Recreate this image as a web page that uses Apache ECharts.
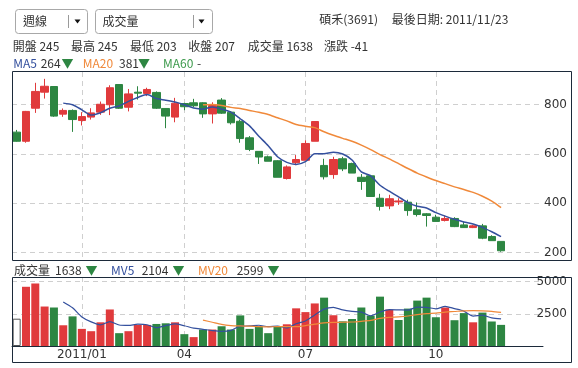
<!DOCTYPE html>
<html><head><meta charset="utf-8">
<script src="https://cdn.jsdelivr.net/npm/echarts@6/dist/echarts.min.js"></script>
<style>html,body{margin:0;padding:0;background:#fff}#c{width:578px;height:368px}</style>
</head><body><div id="c"></div>
<script>
const dates = ['2010/11/19','2010/11/26','2010/12/03','2010/12/10','2010/12/17','2010/12/24','2010/12/31',
'2011/01/07','2011/01/14','2011/01/21','2011/01/28','2011/02/11','2011/02/18','2011/02/25','2011/03/04',
'2011/03/11','2011/03/18','2011/03/25','2011/04/01','2011/04/08','2011/04/15','2011/04/22','2011/04/29',
'2011/05/06','2011/05/13','2011/05/20','2011/05/27','2011/06/03','2011/06/10','2011/06/17','2011/06/24',
'2011/07/01','2011/07/08','2011/07/15','2011/07/22','2011/07/29','2011/08/05','2011/08/12','2011/08/19',
'2011/08/26','2011/09/02','2011/09/09','2011/09/16','2011/09/23','2011/09/30','2011/10/07','2011/10/14',
'2011/10/21','2011/10/28','2011/11/04','2011/11/11','2011/11/18','2011/11/23'];
const opens  = [688,651,785,850,873,761,776,735,749,769,799,881,789,850,845,849,784,749,804,807,807,762,818,769,732,665,610,588,572,500,564,574,651,553,516,580,561,505,511,420,389,405,404,373,357,343,330,338,312,301,308,265,245];
const closes = [651,772,853,874,753,776,739,751,766,801,868,785,843,846,861,785,753,805,791,795,762,796,765,726,662,618,587,570,505,547,577,642,731,507,577,539,522,488,427,387,418,409,370,354,350,326,338,305,301,308,258,248,207];
const lows   = [649,645,766,824,750,750,689,715,739,758,757,782,772,820,834,782,704,728,777,790,746,723,762,719,645,611,559,570,505,496,554,574,651,496,499,530,522,454,427,370,376,393,349,346,305,326,326,303,301,299,254,248,203];
const highs  = [697,774,888,904,874,784,780,769,785,812,878,882,863,874,868,853,784,827,807,823,809,809,826,773,739,672,610,593,574,553,595,655,732,580,588,588,564,518,515,438,434,420,414,403,360,353,349,343,324,312,316,270,245];
const volumes = [2117,4592,4847,3061,2985,1607,2296,1327,1148,1837,2832,995,1148,1633,1633,1709,1760,1837,918,689,1276,1276,1531,1276,2372,1327,1531,995,1480,1684,2920,2628,3300,3750,2385,1913,2092,2985,2360,3827,2820,2015,2900,3520,3750,2230,2985,2000,2551,1837,2590,1900,1638];
const ma5 = [null,null,null,null,null,805.6,799,778.6,757,766.6,785,794.2,812.6,828.6,840.6,824,817.6,810,799,785.8,781.2,789.8,781.8,768.8,742.2,713.4,671.6,632.6,588.4,565.4,557.2,568.2,600.4,600.8,606.8,599.2,575.2,526.6,510.6,472.6,448.4,425.8,402.2,387.6,380.2,361.8,347.6,334.6,324,315.6,302,284,264.4];
const ma20 = [null,null,null,null,null,null,null,null,null,null,null,null,null,null,null,null,null,null,null,null,799.0,800.2,795.8,788.4,783.8,775.9,768.3,759.3,746.2,733.5,719.0,711.8,706.2,689.3,675.1,662.8,651.2,635.4,617.2,596.8,579.6,560.2,540.5,521.9,506.3,491.7,479.2,466.0,455.8,443.8,427.9,408.2,382.0];
const mv5 = [null,null,null,null,null,3418,2959,2255,1873,1643,1888,1628,1592,1689,1648,1424,1577,1714,1571,1383,1296,1199,1138,1210,1546,1556,1607,1500,1541,1403,1722,1941,2402,2856,2997,2795,2688,2625,2347,2635,2817,2801,2784,3016,3001,2883,3077,2897,2703,2321,2393,2176,2103];
const mv20 = [null,null,null,null,null,null,null,null,null,null,null,null,null,null,null,null,null,null,null,null,2007,1841,1675,1586,1555,1541,1503,1486,1503,1495,1500,1581,1689,1795,1832,1842,1859,1916,1989,2145,2223,2260,2328,2440,2509,2554,2627,2677,2731,2738,2722,2686,2602];
const tickDates = ['2011/01/07','2011/04/01','2011/07/01','2011/10/07'];
const tickLabels = ['2011/01','04','07','10'];
const priceTicks = [200,400,600,800];
const volumeTicks = [2500,5000];

const UP = '#e03a3c', DOWN = '#2d8642', BLUE = '#34509e', ORANGE = '#f0893a', GREENTXT = '#3d9a4c';
const BORDER = '#1c2a3a', GRIDC = '#cfcfcf';
const AXFONT = 'DejaVu Sans';
const HFONT = '12px "Noto Sans CJK TC"';

const isTick = (i, v) => tickDates.indexOf(v) >= 0;
const candleData = dates.map((d, i) => [opens[i], closes[i], lows[i], highs[i]]);
const volData = volumes.map((v, i) => i === 0
  ? { value: v, itemStyle: { color: '#ffffff', borderColor: '#555', borderWidth: 1 } }
  : { value: v, itemStyle: { color: closes[i] >= closes[i - 1] ? UP : DOWN } });

function txt(x, y, s, fill) {
  return { type: 'text', silent: true, style: { x: x, y: y, text: s, font: HFONT, fill: fill || '#333',
    textVerticalAlign: 'middle', verticalAlign: 'middle' } };
}
const graphics = [
  { type: 'rect', shape: { x: 12.5, y: 71.5, width: 559, height: 189 }, style: { fill: 'none', stroke: BORDER, lineWidth: 1 }, silent: true, z: 10 },
  { type: 'rect', shape: { x: 12.5, y: 277.5, width: 559, height: 85 }, style: { fill: 'none', stroke: BORDER, lineWidth: 1 }, silent: true, z: 10 },
  { type: 'rect', shape: { x: 15.5, y: 9.5, width: 72, height: 24, r: 3 }, style: { fill: '#fff', stroke: '#a8a8a8', lineWidth: 1 }, silent: true },
  { type: 'line', shape: { x1: 68.5, y1: 15, x2: 68.5, y2: 28 }, style: { stroke: '#9a9a9a', lineWidth: 1 }, silent: true },
  { type: 'polygon', shape: { points: [[74.5, 19.5], [80.5, 19.5], [77.5, 23.5]] }, style: { fill: '#111' }, silent: true },
  { type: 'rect', shape: { x: 95.5, y: 9.5, width: 117, height: 24, r: 3 }, style: { fill: '#fff', stroke: '#a8a8a8', lineWidth: 1 }, silent: true },
  { type: 'line', shape: { x1: 193.5, y1: 15, x2: 193.5, y2: 28 }, style: { stroke: '#9a9a9a', lineWidth: 1 }, silent: true },
  { type: 'polygon', shape: { points: [[198.5, 19.5], [204.5, 19.5], [201.5, 23.5]] }, style: { fill: '#111' }, silent: true },
  txt(23, 21.5, '週線'), txt(102.5, 21.5, '成交量'),
  txt(319.3, 19, '碩禾(3691)'), txt(391.7, 19, '最後日期: 2011/11/23'),
  txt(12.7, 46.7, '開盤 245'), txt(71, 46.7, '最高 245'), txt(130, 46.7, '最低 203'),
  txt(188.3, 46.7, '收盤 207'), txt(247.7, 46.7, '成交量 1638'), txt(324, 46.7, '漲跌 -41'),
  txt(13.3, 63, 'MA5', BLUE), txt(40.7, 63, '264'), txt(61.5, 63, '▼', DOWN),
  txt(82.7, 63, 'MA20', ORANGE), txt(119, 63, '381'), txt(138, 63, '▼', DOWN),
  txt(163, 63, 'MA60', GREENTXT), txt(197, 63, '-'),
  txt(14, 270, '成交量'), txt(55, 270, '1638'), txt(85.5, 270, '▼', DOWN),
  txt(111, 270, 'MV5', BLUE), txt(141.7, 270, '2104'), txt(172.5, 270, '▼', DOWN),
  txt(198, 270, 'MV20', ORANGE), txt(236.7, 270, '2599'), txt(267.5, 270, '▼', DOWN)
];

const chart = echarts.init(document.getElementById('c'), null, { renderer: 'canvas' });
const dashed = { color: GRIDC, type: [5, 4], width: 1 };
chart.setOption({
  animation: false,
  backgroundColor: '#fff',
  grid: [
    { left: 12, right: 35, top: 72, height: 188 },
    { left: 12, right: 35, top: 277, height: 69 }
  ],
  xAxis: [
    { type: 'category', gridIndex: 0, data: dates, max: 56, boundaryGap: true,
      axisLine: { show: false }, axisTick: { show: false, alignWithLabel: true, interval: isTick },
      axisLabel: { show: false },
      splitLine: { show: true, interval: isTick, alignWithLabel: true, lineStyle: dashed } },
    { type: 'category', gridIndex: 1, data: dates, max: 56, boundaryGap: true,
      axisLine: { show: true, lineStyle: { color: BORDER, width: 1 } },
      axisTick: { show: false, alignWithLabel: true, interval: isTick },
      axisLabel: { interval: isTick, margin: 3, color: '#333', fontSize: 12, fontFamily: AXFONT,
        formatter: v => { const k = tickDates.indexOf(v); return k >= 0 ? tickLabels[k] : ''; } },
      splitLine: { show: true, interval: isTick, alignWithLabel: true, lineStyle: dashed } }
  ],
  yAxis: [
    { type: 'value', gridIndex: 0, position: 'right', min: 169.6, max: 931.8, scale: true,
      axisLine: { show: false }, axisTick: { show: false, customValues: priceTicks },
      axisLabel: { customValues: priceTicks, align: 'right', margin: 24, color: '#333', fontSize: 12, fontFamily: AXFONT,
        formatter: v => String(v) },
      splitLine: { show: true, lineStyle: dashed } },
    { type: 'value', gridIndex: 1, position: 'right', min: 0, max: 5350,
      axisLine: { show: false }, axisTick: { show: false, customValues: volumeTicks },
      axisLabel: { customValues: volumeTicks, align: 'right', margin: 24, color: '#333', fontSize: 12, fontFamily: AXFONT,
        formatter: v => String(v) },
      splitLine: { show: true, lineStyle: dashed } }
  ],
  series: [
    { type: 'candlestick', xAxisIndex: 0, yAxisIndex: 0, data: candleData, barWidth: 8,
      itemStyle: { color: UP, color0: DOWN, borderColor: UP, borderColor0: DOWN, borderWidth: 1 } },
    { type: 'line', xAxisIndex: 0, yAxisIndex: 0, data: ma5, showSymbol: false, smooth: 0.25,
      lineStyle: { color: BLUE, width: 1.5 }, z: 5 },
    { type: 'line', xAxisIndex: 0, yAxisIndex: 0, data: ma20, showSymbol: false, smooth: 0.25,
      lineStyle: { color: ORANGE, width: 1.5 }, z: 5 },
    { type: 'bar', xAxisIndex: 1, yAxisIndex: 1, data: volData, barWidth: 8 },
    { type: 'line', xAxisIndex: 1, yAxisIndex: 1, data: mv5, showSymbol: false, smooth: 0.25,
      lineStyle: { color: BLUE, width: 1.2 }, z: 5 },
    { type: 'line', xAxisIndex: 1, yAxisIndex: 1, data: mv20, showSymbol: false, smooth: 0.25,
      lineStyle: { color: ORANGE, width: 1.2 }, z: 5 }
  ],
  graphic: graphics
});
</script>
</body></html>
